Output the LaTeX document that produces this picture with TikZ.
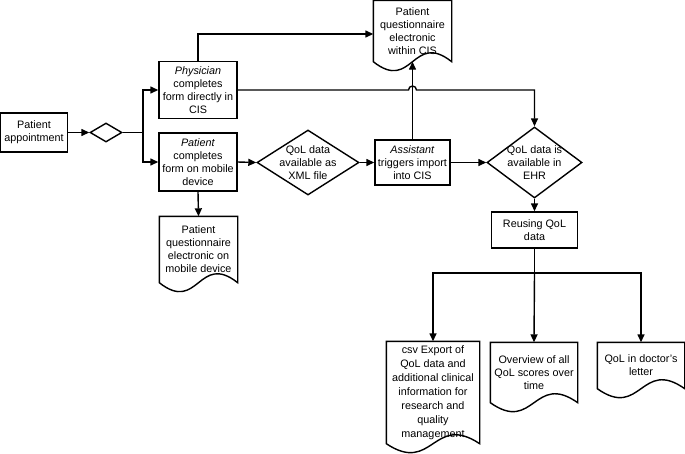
\documentclass[tikz,border=0pt]{standalone}
\usepackage{fontspec}
\setmainfont{Liberation Sans}
\usetikzlibrary{arrows.meta,shapes.geometric,calc}
\newcommand\docout[1]{\draw (#1.north west) -- (#1.south west) .. controls ($(#1.south)+(0,31)$) and ($(#1.south)+(0,-31)$) .. (#1.south east) -- (#1.north east) -- cycle;}
\begin{document}
\begin{tikzpicture}[x=1pt,y=-1pt, line width=1.4pt,
  font=\fontsize{10.8}{13}\selectfont,
  box/.style={draw, rectangle, align=center, inner sep=0pt},
  dia/.style={draw, diamond, inner sep=0pt},
  doc/.style={rectangle, align=center, inner sep=0pt},
  arr/.style={-{Triangle[length=8pt,width=7pt]}},
  lbl/.style={align=center, inner sep=0pt}
]
\useasboundingbox (0,0) rectangle (685,453);
% nodes
\node[box, minimum width=67pt, minimum height=39pt] (appt) at (34,132.5) {Patient\\appointment};
\node[dia, minimum width=32pt, minimum height=19pt] (d0) at (106,132.5) {};
\coordinate (split) at (143,132.5);
\node[box, minimum width=78pt, minimum height=57pt] (phys) at (198,90) {\textit{Physician}\\completes\\form directly in\\CIS};
\node[box, minimum width=78pt, minimum height=58pt] (pat) at (198,162) {\textit{Patient}\\completes\\form on mobile\\device};
\node[dia, minimum width=102pt, minimum height=65pt, label={[lbl]center:QoL data\\available as\\XML file}] (xml) at (308,162.5) {};
\node[box, minimum width=75pt, minimum height=45pt] (asst) at (412.5,162.5) {\textit{Assistant}\\triggers import\\into CIS};
\node[dia, minimum width=95pt, minimum height=71pt, label={[lbl]center:QoL data is\\available in\\EHR}] (ehr) at (534.5,162.5) {};
\node[box, minimum width=86pt, minimum height=36pt] (reuse) at (534.5,230) {Reusing QoL\\data};
% documents
\node[doc, minimum width=77pt, minimum height=60pt] (cis) at (412.5,31) {Patient\\questionnaire\\electronic\\within CIS};
\node[doc, minimum width=77pt, minimum height=65pt] (mob) at (198.5,249.5) {Patient\\questionnaire\\electronic on\\mobile device};
\node[doc, minimum width=92pt, minimum height=101pt, font=\fontsize{10.8}{14}\selectfont] (csv) at (433,392.5) {csv Export of\\QoL data and\\additional clinical\\information for\\research and\\quality\\management};
\node[doc, minimum width=86pt, minimum height=59pt] (over) at (534,372.5) {Overview of all\\QoL scores over\\time};
\node[doc, minimum width=86pt, minimum height=45pt] (letter) at (641,365.5) {QoL in doctor's\\letter};
\docout{cis}
\docout{mob}
\docout{csv}
\docout{over}
\docout{letter}
% connectors
\draw[arr] (appt.east) -- (d0.west);
\draw (d0.east) -- (split);
\draw[arr] (split) |- (phys.west);
\draw[arr] (split) |- (pat.west);
\draw[arr] (phys.north) |- ([yshift=-3pt]cis.west);
\coordinate (cross) at (asst.north |- phys.east);
\draw[arr] (phys.east) -- ([xshift=-4pt]cross) arc[start angle=180, end angle=0, radius=4pt] -| (ehr.north);
\draw[arr] (asst.north) -- (cis.south);
\draw[arr] (pat.east) -- (xml.west);
\draw[arr] (xml.east) -- (asst.west);
\draw[arr] (asst.east) -- (ehr.west);
\draw[arr] (ehr.south) -- (reuse.north);
\draw[arr] (pat.south) -- (mob.north);
\coordinate (bsplit) at (534.5,273);
\draw (reuse.south) -- (bsplit);
\draw[arr] (bsplit) -| (csv.north);
\draw[arr] (bsplit) -- (over.north);
\draw[arr] (bsplit) -| (letter.north);
\end{tikzpicture}
\end{document}
